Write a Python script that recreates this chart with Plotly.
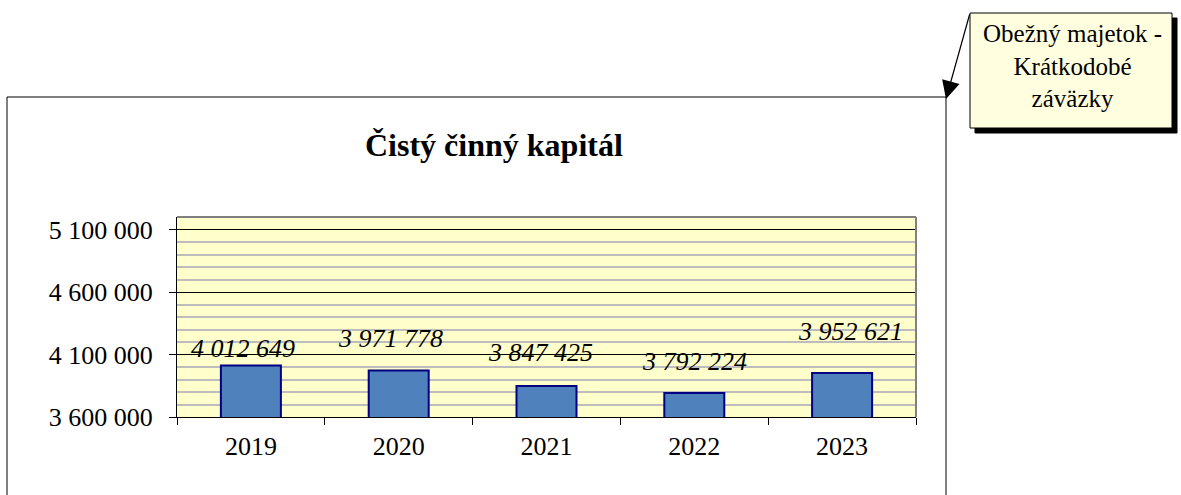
import plotly.graph_objects as go

# ---- data ----
years = ["2019", "2020", "2021", "2022", "2023"]
values = [4012649, 3971778, 3847425, 3792224, 3952621]
value_labels = ["4 012 649", "3 971 778", "3 847 425", "3 792 224", "3 952 621"]
title_text = "Čistý činný kapitál"
callout_lines = ["Obežný majetok -", "Krátkodobé", "záväzky"]
y_range = [3600000, 5200000]
y_major = 500000
y_minor = 100000

# ---- layout geometry (pixels) ----
W, H = 1181, 495
ML, MR, MT, MB = 177, 265, 217, 78
PW, PH = W - ML - MR, H - MT - MB

def px(x):
    return (x - ML) / PW

def py(y):
    return (H - MB - y) / PH

# label offsets (style): pixel shifts from bar top / bar centre
label_xshift = [-8, -8, -6, 0, 8]
label_yshift = [17, 32, 34, 31, 41]

FONT = "Liberation Serif, Times New Roman, serif"

fig = go.Figure()
fig.add_trace(go.Bar(
    x=years, y=values,
    marker=dict(color="#4F81BD", line=dict(color="#000080", width=2)),
    hoverinfo="x+y",
))

annotations = []
for i, (v, lab, dx, dy) in enumerate(zip(values, value_labels, label_xshift, label_yshift)):
    annotations.append(dict(
        x=i, y=v, xref="x", yref="y", text=lab, showarrow=False,
        xshift=dx, yshift=dy, yanchor="middle", xanchor="center",
        font=dict(family=FONT, size=26, color="black", style="italic"),
    ))

# title
annotations.append(dict(
    x=px(494), y=py(145), xref="paper", yref="paper", text="<b>" + title_text + "</b>",
    showarrow=False, xanchor="center", yanchor="middle",
    font=dict(family=FONT, size=32, color="black"),
))

# callout text
annotations.append(dict(
    x=px(1072), y=py(66), xref="paper", yref="paper", text="<br>".join(callout_lines),
    showarrow=False, xanchor="center", yanchor="middle", align="center",
    font=dict(family=FONT, size=25, color="black"),
))

# callout arrow
annotations.append(dict(
    x=px(946), y=py(99), xref="paper", yref="paper", text="",
    showarrow=True, ax=24, ay=-86, arrowhead=2, arrowsize=3, arrowwidth=1.2,
    arrowcolor="black", standoff=0, startstandoff=0,
))

shapes = [
    # outer chart border
    dict(type="rect", xref="paper", yref="paper", x0=px(7), x1=px(946), y0=py(97), y1=py(520),
         line=dict(color="black", width=1), fillcolor="rgba(0,0,0,0)", layer="below"),
    # plot area grey border (top/right)
    dict(type="line", xref="paper", yref="paper", x0=0, x1=1, y0=1, y1=1,
         line=dict(color="#808080", width=2)),
    dict(type="line", xref="paper", yref="paper", x0=1, x1=1, y0=0, y1=1,
         line=dict(color="#808080", width=2)),
    # callout shadow
    dict(type="rect", xref="paper", yref="paper", x0=px(975), x1=px(1177), y0=py(18), y1=py(133),
         line=dict(color="black", width=1), fillcolor="black"),
    # callout box
    dict(type="rect", xref="paper", yref="paper", x0=px(970), x1=px(1172), y0=py(13), y1=py(128),
         line=dict(color="black", width=1), fillcolor="#FFFFE0"),
]

fig.update_layout(
    width=W, height=H,
    margin=dict(l=ML, r=MR, t=MT, b=MB, pad=0),
    paper_bgcolor="white", plot_bgcolor="#FFFFCC",
    separators=", ",
    showlegend=False,
    bargap=0.594,
    annotations=annotations,
    shapes=shapes,
    font=dict(family=FONT, size=26, color="black"),
)
fig.update_xaxes(
    type="category", range=[-0.5, len(years) - 0.5], autorange=False,
    showline=True, linecolor="black", linewidth=1,
    ticks="outside", tickson="boundaries", ticklen=7, tickcolor="black",
    tickfont=dict(family=FONT, size=26, color="black"), ticklabelstandoff=6,
    showgrid=False, zeroline=False,
)
fig.update_yaxes(
    range=y_range, autorange=False, tick0=y_range[0], dtick=y_major,
    showline=True, linecolor="black", linewidth=1,
    ticks="outside", ticklen=7, tickcolor="black",
    tickfont=dict(family=FONT, size=26, color="black"), ticklabelstandoff=11,
    showgrid=True, gridcolor="black", gridwidth=1,
    minor=dict(dtick=y_minor, tick0=y_range[0], showgrid=True, gridcolor="#BDBDBD", gridwidth=2, ticks=""),
    tickformat=",d", zeroline=False,
)

fig.write_html(
    "out.html",
    config={"displayModeBar": False},
    post_script="document.body.style.margin='0';document.body.style.padding='0';",
)
